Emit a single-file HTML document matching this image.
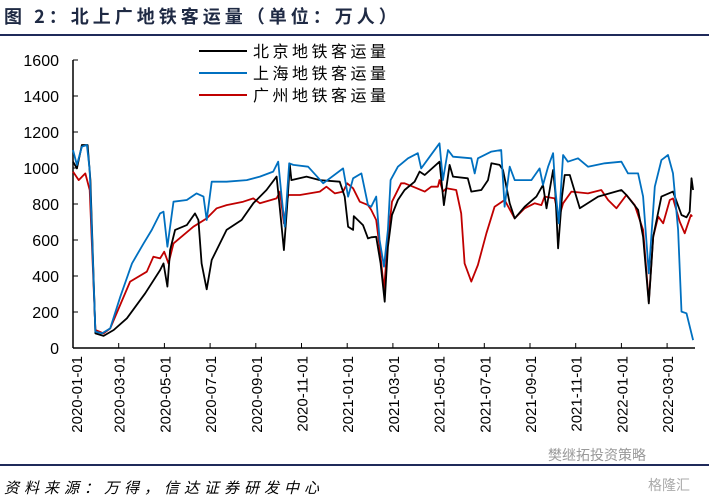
<!DOCTYPE html>
<html><head><meta charset="utf-8">
<style>
body{margin:0;background:#fff;}
svg{display:block;font-family:"Liberation Sans","Noto Sans CJK SC",sans-serif;}
</style></head>
<body>
<svg id="chart" width="709" height="503" viewBox="0 0 709 503">
<text x="4" y="23" font-size="18" font-weight="bold" fill="#1f2a44" letter-spacing="4" font-family="'Noto Sans CJK SC',sans-serif">图 2：北上广地铁客运量（单位：万人）</text>
<line x1="0" y1="35" x2="709" y2="35" stroke="#1f2a5a" stroke-width="2"/>
<g id="axes"></g>
<g id="series"></g>
<g font-family="'Noto Sans CJK SC',sans-serif" letter-spacing="3.5">
 <g><line x1="199" y1="51" x2="247" y2="51" stroke="#000" stroke-width="2"/><text x="253" y="57" font-size="16">北京地铁客运量</text></g>
 <g><line x1="199" y1="73" x2="247" y2="73" stroke="#0070c0" stroke-width="2"/><text x="253" y="79" font-size="16">上海地铁客运量</text></g>
 <g><line x1="199" y1="95" x2="247" y2="95" stroke="#c00000" stroke-width="2"/><text x="253" y="101" font-size="16">广州地铁客运量</text></g>
</g>
<line x1="0" y1="465" x2="709" y2="465" stroke="#1f2a5a" stroke-width="2"/>
<text x="4" y="493" font-size="15" font-style="italic" letter-spacing="5" font-family="'Noto Sans CJK SC',sans-serif">资料来源：万得，信达证券研发中心</text>
<text x="548" y="460" font-size="14" fill="#999" font-family="'Noto Sans CJK SC',sans-serif">樊继拓投资策略</text>
<text x="648" y="490" font-size="14" fill="#aaa" font-family="'Noto Sans CJK SC',sans-serif">格隆汇</text>
</svg>
<script>
const yTicks=[0,200,400,600,800,1000,1200,1400,1600];
const xTickLabels=["2020-01-01","2020-03-01","2020-05-01","2020-07-01","2020-09-01","2020-11-01","2021-01-01","2021-03-01","2021-05-01","2021-07-01","2021-09-01","2021-11-01","2022-01-01","2022-03-01"];
const xTickMonths=[0,2,4,6,8,10,12,14,16,18,20,22,24,26];
const bjM=[0,.17,.39,.64,.76,.98,1.34,1.78,2.36,3.16,3.81,3.96,4.13,4.25,4.47,4.98,5.34,5.49,5.63,5.85,6.07,6.72,7.38,7.89,8.47,8.91,9.06,9.23,9.37,9.49,9.56,10.22,10.8,11.67,11.89,12.04,12.26,12.29,12.69,12.91,13.05,13.27,13.46,13.64,13.78,13.96,14.22,14.51,14.95,15.17,15.39,16.04,16.23,16.48,16.63,17.28,17.43,17.87,18.16,18.31,18.67,18.82,19.11,19.33,19.77,20.28,20.57,20.72,21.01,21.11,21.23,21.4,21.52,21.74,22.18,22.98,24.0,24.22,24.73,24.95,25.2,25.39,25.75,26.26,26.63,26.85,26.99,27.07,27.14];
const bjV=[1035,998,1128,1128,933,81,67,100,165,304,433,470,341,544,656,683,748,711,470,326,489,656,711,804,878,952,767,544,785,1017,933,952,933,924,841,674,656,733,683,609,615,618,470,257,563,739,822,878,924,980,961,1035,794,1017,952,943,869,878,933,1026,1017,989,804,720,785,841,906,776,989,859,554,841,961,961,776,841,878,850,767,618,248,618,841,869,739,726,757,943,878];
const shM=[0,.17,.39,.61,.73,.98,1.27,1.63,2.07,2.58,3.09,3.45,3.81,3.96,4.13,4.4,4.98,5.41,5.71,5.85,6.07,6.72,7.6,8.18,8.76,8.98,9.13,9.27,9.46,9.64,10.29,10.95,11.82,12.04,12.26,12.62,12.91,13.05,13.27,13.42,13.61,13.78,13.9,14.22,14.66,15.09,15.24,15.61,16.04,16.19,16.41,16.63,17.43,17.58,17.72,18.31,18.74,18.89,19.11,19.33,20.06,20.42,20.57,20.79,21.01,21.11,21.26,21.45,21.66,22.1,22.54,23.27,24.0,24.29,24.73,24.95,25.2,25.46,25.75,26.04,26.26,26.48,26.63,26.85,27.14];
const shV=[1100,1017,1119,1128,989,91,81,109,285,470,581,656,748,757,563,813,822,859,841,711,924,924,933,952,980,1035,841,674,1026,1017,1007,915,998,841,943,970,794,785,841,600,452,656,933,1007,1054,1082,998,1063,1137,933,1100,1063,1054,970,1054,1091,1100,785,1007,933,933,998,906,1007,1082,878,693,1072,1035,1054,1007,1026,1035,970,970,841,415,896,1044,1072,970,656,202,193,44];
const gzM=[0,.25,.54,.73,.98,1.34,1.63,2.5,3.23,3.52,3.81,3.99,4.18,4.4,5.27,5.85,6.29,6.72,7.45,7.89,8.18,8.91,9.06,9.23,9.42,9.93,10.8,11.09,11.46,11.82,12.0,12.26,12.55,12.91,13.05,13.27,13.42,13.61,13.78,13.96,14.36,14.51,14.88,15.39,15.68,15.97,16.04,16.19,16.34,16.77,16.99,17.14,17.43,17.72,18.09,18.45,18.89,19.33,19.77,20.2,20.5,20.64,21.08,21.26,21.45,21.81,22.54,23.12,23.42,23.78,24.22,24.58,24.95,25.2,25.39,25.61,25.83,26.12,26.26,26.55,26.77,27.04,27.1];
const gzV=[980,933,970,878,100,81,109,369,424,507,498,535,470,581,674,720,776,794,813,831,804,831,869,693,850,850,869,896,859,869,915,887,813,794,767,711,563,322,600,813,915,915,896,869,896,896,933,869,887,878,748,470,369,461,637,785,822,720,776,804,794,841,831,720,804,869,859,878,822,776,850,794,656,257,618,730,693,822,831,702,637,739,730];

const X0=73,PX_M=22.85,Y0=348,PX_V=0.18;
const xs=m=>X0+m*PX_M;
const ys=v=>Y0-v*PX_V;
const NS="http://www.w3.org/2000/svg";
const axes=document.getElementById('axes');
const ser=document.getElementById('series');
function mk(tag,attrs,parent){const e=document.createElementNS(NS,tag);for(const k in attrs)e.setAttribute(k,attrs[k]);parent.appendChild(e);return e;}

const yAxis=mk('line',{x1:X0,y1:ys(1600),x2:X0,y2:Y0,stroke:'#000','stroke-width':1.5},axes);


const xAxis=mk('line',{x1:X0,y1:Y0,x2:695,y2:Y0,stroke:'#000','stroke-width':1.5},axes);



yTicks.forEach(v=>{
 const t=mk('line',{x1:X0,y1:ys(v),x2:X0+5,y2:ys(v),stroke:'#000','stroke-width':1},axes);
 
 
 const l=mk('text',{x:59,y:ys(v)+6,'text-anchor':'end','font-size':16,fill:'#000'},axes);
 l.textContent=v;
 
 
});
xTickMonths.forEach((m,i)=>{
 const x=xs(m);
 if(i>0){
 const t=mk('line',{x1:x,y1:Y0,x2:x,y2:Y0-5,stroke:'#000','stroke-width':1},axes);
 
 
 }
 const l=mk('text',{x:0,y:0,'text-anchor':'end','font-size':15,fill:'#000',transform:`translate(${x+(i==0?3:0)+6},${Y0+8}) rotate(-90)`},axes);
 l.textContent=xTickLabels[i];
 
 
});
function line(M,V,color,name){
 const d=M.map((m,i)=>(i?'L':'M')+xs(m).toFixed(1)+','+ys(V[i]).toFixed(1)).join('');
 const p=mk('path',{d:d,fill:'none',stroke:color,'stroke-width':1.8,'stroke-linejoin':'round'},ser);
 
 
}
line(gzM,gzV,'#c00000','guangzhou-line');
line(bjM,bjV,'#000000','beijing-line');
line(shM,shV,'#0070c0','shanghai-line');
</script>
</body></html>
